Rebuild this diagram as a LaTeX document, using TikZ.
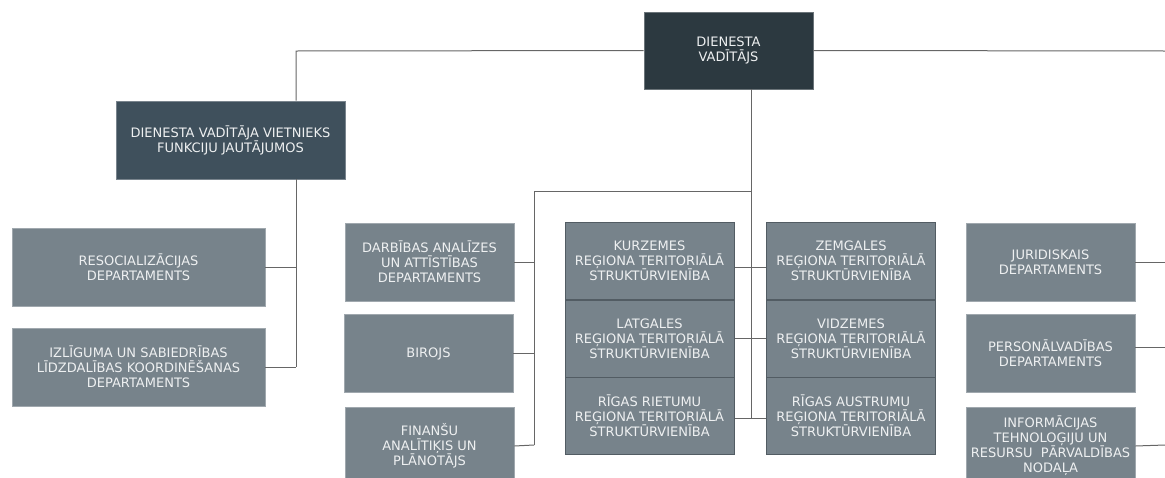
\documentclass[tikz,border=0pt]{standalone}
\usepackage{fontspec}
\setmainfont{DejaVu Sans}
\definecolor{topfill}{HTML}{2C3940}
\definecolor{vicfill}{HTML}{3F505C}
\definecolor{depfill}{HTML}{77838B}
\definecolor{txt}{HTML}{EEF0F1}
\definecolor{ln}{HTML}{666666}
\definecolor{sep}{HTML}{525C63}
\begin{document}
\begin{tikzpicture}[x=1pt,y=-1pt,
  box/.style={rectangle, draw=#1!70!white, line width=0.6pt, fill=#1, text=txt, align=center,
     font=\fontsize{13}{15}\selectfont, inner sep=0pt},
  dep/.style={box=depfill, minimum width=169pt, minimum height=78pt},
  stackbox/.style={rectangle, draw=sep, line width=1pt, fill=depfill, text=txt, align=center,
     font=\fontsize{13}{15}\selectfont, inner sep=0pt, minimum width=169pt, minimum height=77pt},
  conn/.style={draw=ln, line width=1pt}]
\useasboundingbox (0,0) rectangle (1165,477);
% nodes
\node[box=topfill, minimum width=169pt, minimum height=77pt] (top) at (728.5,50.5) {DIENESTA\\VADĪTĀJS};
\node[box=vicfill, minimum width=229pt, minimum height=78pt] (vic) at (230.5,140) {DIENESTA VADĪTĀJA VIETNIEKS\\FUNKCIJU JAUTĀJUMOS};
\node[dep, minimum width=253pt] (reso) at (138.5,267) {RESOCIALIZĀCIJAS\\DEPARTAMENTS};
\node[dep, minimum width=253pt] (izl) at (138.5,367) {IZLĪGUMA UN SABIEDRĪBAS\\LĪDZDALĪBAS KOORDINĒŠANAS\\DEPARTAMENTS};
\node[dep] (darb) at (429.5,262) {DARBĪBAS ANALĪZES\\UN ATTĪSTĪBAS\\DEPARTAMENTS};
\node[dep] (biroj) at (428.5,353.5) {BIROJS};
\node[dep] (fin) at (429.5,446) {FINANŠU\\ANALĪTIĶIS UN\\PLĀNOTĀJS};
\node[stackbox] (kurz) at (649.5,261) {KURZEMES\\REĢIONA TERITORIĀLĀ\\STRUKTŪRVIENĪBA};
\node[stackbox] (lat) at (649.5,338.5) {LATGALES\\REĢIONA TERITORIĀLĀ\\STRUKTŪRVIENĪBA};
\node[stackbox] (rig) at (649.5,415.5) {RĪGAS RIETUMU\\REĢIONA TERITORIĀLĀ\\STRUKTŪRVIENĪBA};
\node[stackbox] (zem) at (851,261) {ZEMGALES\\REĢIONA TERITORIĀLĀ\\STRUKTŪRVIENĪBA};
\node[stackbox] (vid) at (851,338.5) {VIDZEMES\\REĢIONA TERITORIĀLĀ\\STRUKTŪRVIENĪBA};
\node[stackbox] (riga) at (851,415.5) {RĪGAS AUSTRUMU\\REĢIONA TERITORIĀLĀ\\STRUKTŪRVIENĪBA};
\node[dep] (jur) at (1050.5,262) {JURIDISKAIS\\DEPARTAMENTS};
\node[dep] (pers) at (1050.5,353.5) {PERSONĀLVADĪBAS\\DEPARTAMENTS};
\node[dep] (info) at (1050.5,446) {INFORMĀCIJAS\\TEHNOLOĢIJU UN\\RESURSU~ PĀRVALDĪBAS\\NODAĻA};
% coordinates
\coordinate (lcorner) at (296,51);
\coordinate (redge) at (1165,51);
\coordinate (vtrunk) at (296,367);
\coordinate (ctop) at (751,89);
\coordinate (cbranch) at (751,191);
\coordinate (cbottom) at (751,418);
\coordinate (mtop) at (534,191);
\coordinate (mbottom) at (534,445);
\coordinate (rj) at (1165,262);
\coordinate (rp) at (1165,347);
\coordinate (ri) at (1165,445);
% connectors
\draw[conn] (top.west) -- (lcorner) -- (lcorner |- vic.north);
\draw[conn] (top.east) -- (redge);
\draw[conn] (vtrunk |- vic.south) -- (vtrunk);
\draw[conn] (reso.east) -- (reso.east -| vtrunk);
\draw[conn] (izl.east) -- (vtrunk);
\draw[conn] (ctop) -- (cbottom);
\draw[conn] (cbranch) -- (mtop) -- (mbottom);
\draw[conn] (darb.east) -- (darb.east -| mtop);
\draw[conn] (biroj.east) -- (biroj.east -| mtop);
\draw[conn] (fin.east) -- (mbottom);
\draw[conn] ([yshift=-6pt]kurz.east) -- ([yshift=-6pt]zem.west);
\draw[conn] (lat.east) -- (vid.west);
\draw[conn] ([yshift=-2.5pt]rig.east) -- ([yshift=-2.5pt]riga.west);
\draw[conn] (jur.east) -- (rj);
\draw[conn] ([yshift=6.5pt]pers.east) -- (rp);
\draw[conn] (info.east) -- (ri);
\end{tikzpicture}
\end{document}
